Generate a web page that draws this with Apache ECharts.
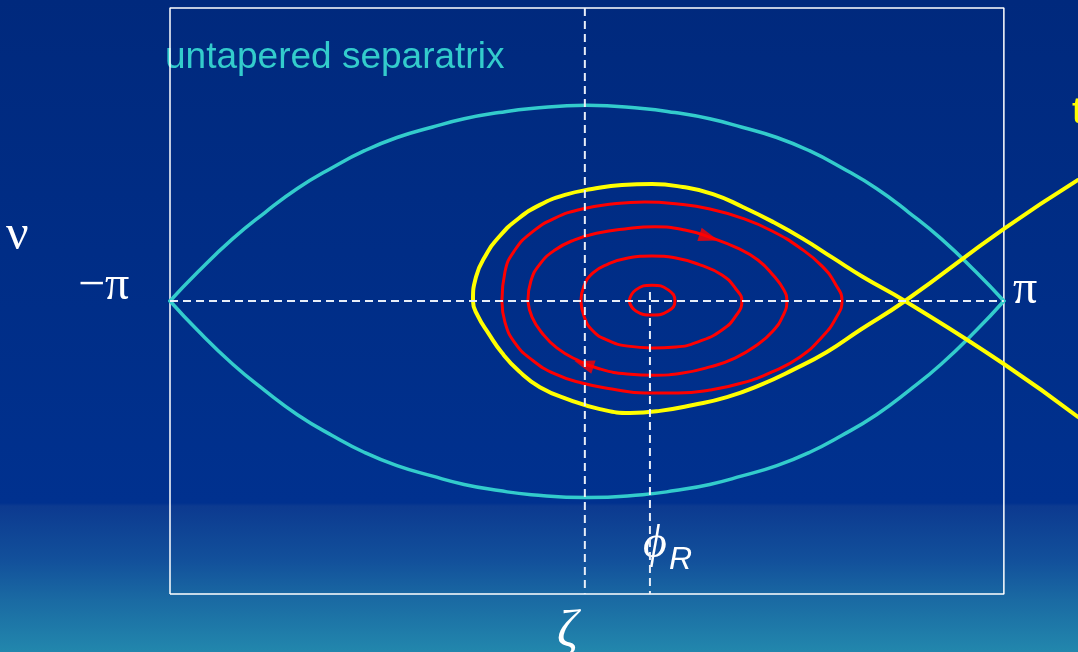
<!DOCTYPE html>
<html>
<head>
<meta charset="utf-8">
<title>Tapered and untapered separatrix</title>
<script src="https://cdn.jsdelivr.net/npm/echarts@6/dist/echarts.min.js"></script>
<style>
  html, body { margin: 0; padding: 0; }
  body {
    width: 1078px; height: 652px; overflow: hidden;
    background: linear-gradient(to bottom,
      #00297d 0px, #00318f 503px, #0c3a90 506px,
      #12509b 560px, #1a6aa3 600px, #2287ad 652px);
  }
  #chart { width: 1078px; height: 652px; }
</style>
</head>
<body>
<div id="chart"></div>
<script>
// Phase axis in degrees, energy/momentum axis normalised to the untapered frame.

// Untapered (stationary) separatrix, upper and lower halves
const cyanPhase = [-180, -168, -153, -139, -125, -110, -96, -82, -67, -53, -38, -24, 0,
                   24, 38, 53, 67, 82, 96, 110, 125, 139, 153, 168, 180];
const cyanUpper = [0, 0.099, 0.212, 0.302, 0.384, 0.455, 0.513, 0.558, 0.593, 0.622, 0.643, 0.657, 0.668,
                   0.657, 0.643, 0.622, 0.593, 0.558, 0.513, 0.455, 0.384, 0.302, 0.212, 0.099, 0];
const cyanLower = [0, -0.101, -0.215, -0.306, -0.388, -0.459, -0.517, -0.562, -0.597, -0.626, -0.647, -0.661, -0.671,
                   -0.661, -0.647, -0.626, -0.597, -0.562, -0.517, -0.459, -0.388, -0.306, -0.215, -0.101, 0];

// Tapered separatrix (fish-shaped bucket, X point near +137 deg), traced as one path
const yellowPhase = [212, 180, 137.3, 117.9, 103.6, 88.9, 74.7, 60.4, 45.8, 31.5, 18.6, 5.6, -7.3,
                     -20.3, -29.4, -36.7, -42.3, -47.1, -49.2, -47.9, -43.6, -37.6, -29.8, -20.3,
                     -9.5, 2.2, 15.1, 28.1, 41.4, 54.4, 67.3, 80.3, 93.3, 106.2, 119.2, 137.3, 180, 212];
const yellowNu = [0.413, 0.246, 0, -0.099, -0.174, -0.235, -0.287, -0.328, -0.355, -0.375, -0.382, -0.369, -0.338,
                  -0.294, -0.239, -0.177, -0.113, -0.051, 0, 0.082, 0.157, 0.222, 0.280, 0.328,
                  0.362, 0.382, 0.396, 0.399, 0.389, 0.365, 0.321, 0.270, 0.212, 0.147, 0.082, 0, -0.215, -0.396];

// Trajectories inside the tapered bucket, from outermost to innermost
const orbit4Phase = [-36.7, -35.4, -31.1, -23.7, -13.8, -2.2, 10.8, 25.0, 39.3, 53.1, 66.9, 79.9, 92.0, 101.5,
                     107.5, 110.1, 107.5, 101.5, 92.0, 79.9, 66.9, 53.1, 39.3, 25.0, 10.8, -2.2, -13.8,
                     -23.7, -31.1, -35.4, -36.7];
const orbit4Nu = [0, 0.099, 0.174, 0.235, 0.283, 0.314, 0.331, 0.338, 0.331, 0.314, 0.283, 0.239, 0.181, 0.119,
                  0.055, 0, -0.058, -0.123, -0.191, -0.242, -0.280, -0.304, -0.314, -0.314, -0.300, -0.280, -0.249,
                  -0.201, -0.143, -0.072, 0];

const orbit3Phase = [-25.5, -24.2, -20.3, -13.8, -5.6, 4.7, 16.4, 29.4, 42.3, 54.0, 64.8, 73.8, 80.7, 85.0, 86.3,
                     84.6, 80.3, 73.4, 63.9, 53.1, 41.4, 29.4, 17.3, 5.6, -4.3, -13.0, -19.4, -23.7, -25.5];
const orbit3Nu = [0, 0.068, 0.126, 0.174, 0.208, 0.232, 0.246, 0.253, 0.242, 0.215, 0.181, 0.140, 0.085, 0.038, 0,
                  -0.051, -0.102, -0.150, -0.195, -0.225, -0.246, -0.253, -0.249, -0.232, -0.201, -0.160, -0.109,
                  -0.055, 0];

const orbit2Phase = [-2.6, -1.3, 2.6, 9.1, 17.7, 28.1, 38.4, 48.8, 58.3, 64.3, 66.9,
                     64.3, 58.3, 48.8, 38.4, 28.1, 17.7, 8.6, 2.2, -1.3, -2.6];
const orbit2Nu = [0, 0.051, 0.096, 0.126, 0.147, 0.154, 0.147, 0.123, 0.089, 0.041, 0,
                  -0.051, -0.099, -0.137, -0.157, -0.160, -0.154, -0.133, -0.099, -0.051, 0];

const orbit1Phase = [18.2, 21.1, 28.1, 35.1, 38.0, 35.1, 28.1, 21.1, 18.2];
const orbit1Nu = [0, 0.038, 0.054, 0.038, 0, -0.034, -0.048, -0.034, 0];

// Direction-of-motion arrows on the third trajectory: position and heading
const arrowPhase = [52.7, -1.3];
const arrowNu = [0.217, -0.215];
const arrowRotate = [-108, 72];

// Reference lines
const zetaPhase = -0.9;      // synchronous phase of the untapered bucket
const phiRPhase = 27.2;      // synchronous phase of the tapered bucket
const phiRTop = 0.031;
const phaseLimit = 180;      // -pi .. pi
const nuLimit = 1;

const pairs = (xs, ys) => xs.map((x, i) => [x, ys[i]]);

const CYAN = '#33cccc';
const YELLOW = '#ffff00';
const RED = '#ff0000';

const curve = (name, data, color, width, z) => ({
  name, type: 'line', data, smooth: 0.5, symbol: 'none', z,
  lineStyle: { color, width, cap: 'round', join: 'round' },
  silent: true
});

const dashed = (name, data) => ({
  name, type: 'line', data, symbol: 'none', z: 20, silent: true,
  lineStyle: { color: '#e8eef8', width: 2, type: [8, 5] }
});

const chart = echarts.init(document.getElementById('chart'), null, { renderer: 'canvas' });

const serif = '"Liberation Serif", "DejaVu Serif", serif';
const sans = '"Liberation Sans", Arial, sans-serif';

chart.setOption({
  backgroundColor: 'transparent',
  animation: false,
  grid: { left: 170, right: 0, top: 8, bottom: 58 },
  xAxis: { type: 'value', min: -phaseLimit, max: 212, show: false },
  yAxis: { type: 'value', min: -nuLimit, max: nuLimit, show: false },
  series: [
    {
      name: 'frame', type: 'line', symbol: 'none', clip: false, z: 1, silent: true,
      data: [[-phaseLimit, -nuLimit], [phaseLimit, -nuLimit], [phaseLimit, nuLimit],
             [-phaseLimit, nuLimit], [-phaseLimit, -nuLimit]],
      lineStyle: { color: '#ffffff', width: 1.5 }
    },
    curve('untapered upper', pairs(cyanPhase, cyanUpper), CYAN, 3.5, 5),
    curve('untapered lower', pairs(cyanPhase, cyanLower), CYAN, 3.5, 5),
    curve('tapered separatrix', pairs(yellowPhase, yellowNu), YELLOW, 4, 6),
    curve('orbit 4', pairs(orbit4Phase, orbit4Nu), RED, 3, 7),
    curve('orbit 3', pairs(orbit3Phase, orbit3Nu), RED, 3, 7),
    curve('orbit 2', pairs(orbit2Phase, orbit2Nu), RED, 3, 7),
    curve('orbit 1', pairs(orbit1Phase, orbit1Nu), RED, 3, 7),
    {
      name: 'arrows', type: 'scatter', z: 8, silent: true,
      symbol: 'triangle', symbolSize: [14, 20],
      data: arrowPhase.map((x, i) => ({ value: [x, arrowNu[i]], symbolRotate: arrowRotate[i] })),
      itemStyle: { color: RED }
    },
    dashed('phase axis', [[-phaseLimit, 0], [phaseLimit, 0]]),
    dashed('zeta', [[zetaPhase, nuLimit], [zetaPhase, -nuLimit]]),
    dashed('phi R', [[phiRPhase, phiRTop], [phiRPhase, -nuLimit]])
  ],
  graphic: [
    { type: 'text', left: 165, top: 39, silent: true,
      style: { text: 'untapered separatrix', fill: CYAN, font: '37px ' + sans } },
    { type: 'text', left: 1072, top: 94, silent: true,
      style: { text: 'tapered separatrix', fill: YELLOW, font: '37px ' + sans } },
    { type: 'text', left: 6, top: 211, silent: true,
      style: { text: 'ν', fill: '#ffffff', font: '50px ' + serif } },
    { type: 'text', left: 78, top: 262, silent: true,
      style: { text: '−π', fill: '#ffffff', font: '48px ' + serif } },
    { type: 'text', left: 1013, top: 266, silent: true,
      style: { text: 'π', fill: '#ffffff', font: '48px ' + serif } },
    { type: 'text', left: 643, top: 522, silent: true,
      style: { text: 'ϕ', fill: '#ffffff', font: 'italic 46px ' + serif } },
    { type: 'text', left: 669, top: 544, silent: true,
      style: { text: 'R', fill: '#ffffff', font: 'italic 32px ' + sans } },
    { type: 'text', left: 557, top: 606, silent: true,
      style: { text: 'ζ', fill: '#ffffff', font: 'italic 52px ' + serif } }
  ]
});
</script>
</body>
</html>
